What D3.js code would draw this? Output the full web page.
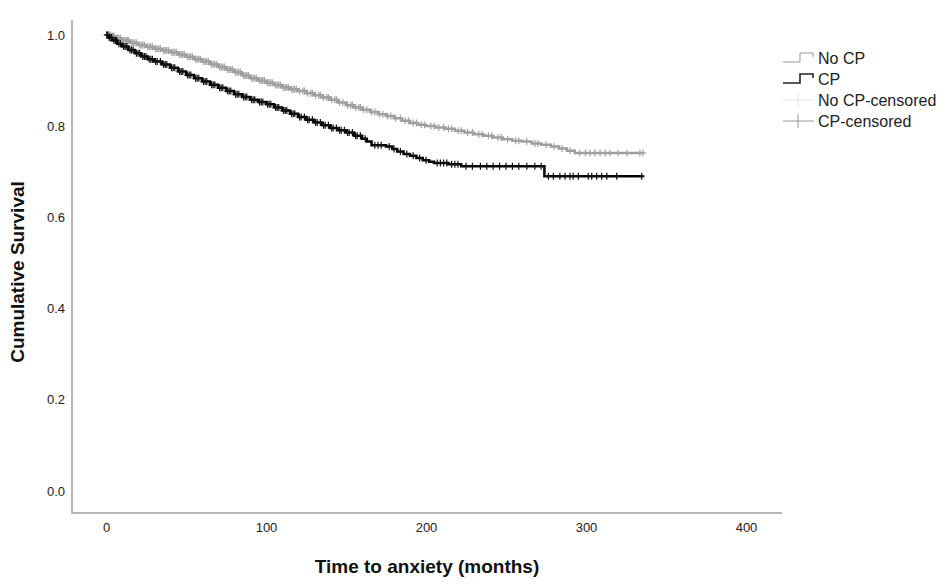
<!DOCTYPE html>
<head>
<meta charset="utf-8">
<style>
body { margin: 0; background: #fff; }
text { font-family: "Liberation Sans", Arial, sans-serif; }
.tick text { font-size: 13px; fill: #222; }
.title { font-size: 19px; font-weight: bold; fill: #111; }
.legend text { font-size: 16px; fill: #222; }
path.km { fill: none; }
</style>
<title>Survival</title>
</head>
<body>
<script src="https://cdn.jsdelivr.net/npm/d3@7"></script>
<script>

var width = 947, height = 586;

// Kaplan-Meier curves (time in months, cumulative survival)
var noCpTime = [0, 3, 6, 10, 15, 20, 25, 30, 35, 40, 45, 50, 55, 60, 65, 70, 75, 80, 85, 90, 95, 100,
  105, 110, 115, 120, 125, 130, 135, 140, 145, 150, 155, 160, 165, 170, 175, 180, 185, 190, 195, 200,
  206, 212, 218, 224, 230, 236, 242, 248, 254, 260, 266, 272, 278, 283, 288, 293];
var noCpSurv = [1.000, 0.997, 0.993, 0.988, 0.983, 0.978, 0.974, 0.970, 0.966, 0.962, 0.957, 0.952, 0.947, 0.942, 0.936, 0.930, 0.924, 0.918, 0.911, 0.905, 0.900, 0.895,
  0.890, 0.885, 0.881, 0.877, 0.872, 0.868, 0.863, 0.858, 0.852, 0.846, 0.841, 0.836, 0.831, 0.826, 0.822, 0.817, 0.812, 0.807, 0.803, 0.800,
  0.797, 0.794, 0.790, 0.786, 0.782, 0.779, 0.775, 0.771, 0.768, 0.766, 0.762, 0.759, 0.755, 0.751, 0.746, 0.741];
var noCpEnd = 336;

var cpTime = [0, 2, 4, 7, 10, 14, 18, 22, 26, 30, 35, 40, 45, 50, 55, 60, 65, 70, 75, 80, 85, 90, 95, 100,
  105, 110, 115, 120, 125, 130, 135, 140, 145, 150, 155, 160, 163, 166, 175, 179, 182, 186, 190, 194, 198, 202, 205, 214, 222, 274];
var cpSurv = [1.000, 0.994, 0.988, 0.981, 0.975, 0.967, 0.960, 0.953, 0.947, 0.942, 0.935, 0.928, 0.920, 0.912, 0.905, 0.898, 0.891, 0.884, 0.877, 0.870, 0.864, 0.858, 0.853, 0.848,
  0.841, 0.834, 0.827, 0.820, 0.814, 0.808, 0.802, 0.796, 0.791, 0.786, 0.779, 0.772, 0.766, 0.758, 0.755, 0.750, 0.744, 0.739, 0.735, 0.730, 0.725, 0.722, 0.719, 0.716, 0.712, 0.690];
var cpEnd = 336;

// censored observations (months)
var noCpCensored = [0.5, 1, 1.5, 2, 2.5, 3.5, 4, 4.5, 5, 6, 7, 7.5, 8, 9, 10.5, 11, 12, 13, 13.5, 14, 16, 17, 18, 19, 21, 22, 23, 24, 26, 27, 28, 29, 31, 32, 33, 34, 36, 37, 38, 39, 41, 42, 43, 44, 46, 47, 48, 49,
  51, 52, 53, 54, 56, 57, 58, 59, 61, 62, 63, 64, 66, 67, 68, 69, 71, 72, 73, 74, 76, 77, 78, 79, 81, 82, 83, 84, 86, 87, 88, 89, 91, 92, 93, 94, 96, 97, 98, 99,
  101, 102, 103, 104, 106, 107, 108, 109, 111, 112, 113, 114, 116, 117, 118, 119, 121, 123, 124, 126, 128, 129, 131, 133, 134, 136, 138, 139, 141, 143, 144, 146, 148,
  151, 153, 154, 156, 158, 159, 161, 163, 166, 168, 171, 173, 176, 178, 181, 184, 187, 189, 192, 194, 197, 199, 203, 205, 208, 211,
  214, 216, 220, 222, 226, 229, 233, 235, 239, 241, 245, 247, 251, 256, 258, 263, 268, 270, 275, 280, 285, 290,
  296, 299.6, 302.5, 305.6, 308.8, 312, 315, 320, 325.6, 333.7, 335.7];
var cpCensored = [0.5, 1, 2, 3, 3.5, 5, 6, 6.5, 8, 9, 11, 12, 13, 15, 16, 17, 19, 20, 21, 23, 24, 25, 27, 28, 29, 31, 32, 34, 36, 37, 38, 41, 42, 43, 46, 47, 48, 51, 52, 53, 56, 57, 58, 61, 62, 63,
  66, 67, 68, 71, 72, 73, 76, 77, 78, 81, 82, 83, 86, 87, 88, 91, 92, 93, 96, 97, 98, 101, 102, 103, 106, 107, 108, 111, 112, 113, 116, 117, 118, 121, 122, 124, 126, 127, 129,
  131, 132, 134, 136, 137, 139, 141, 142, 144, 146, 147, 149, 151, 152, 154, 156, 157, 159, 162, 168, 170, 172, 177, 180, 184, 188, 192, 196, 200,
  207, 209, 211, 213, 216, 218, 220, 225, 229, 234, 238, 242, 246, 250, 254, 258, 263, 268, 272,
  276.5, 279.6, 283.7, 286.9, 290, 292, 295.2, 301.4, 303.6, 306.7, 309.8, 313, 319.2, 334.8];

var xTicks = [0, 100, 200, 300, 400];
var yTicks = [0, 0.2, 0.4, 0.6, 0.8, 1.0];
var groups = ["No CP", "CP", "No CP-censored", "CP-censored"];

var x = d3.scaleLinear().domain([0, 400]).range([106, 746]);
var y = d3.scaleLinear().domain([0, 1]).range([490.5, 35]);

var svg = d3.select("body").append("svg")
    .attr("width", width)
    .attr("height", height);

// frame (left and bottom axis lines)
svg.append("path")
    .attr("d", "M72,20V513H782")
    .attr("fill", "none")
    .attr("stroke", "#a0a0a0")
    .attr("stroke-width", 1.5);

var xAxis = svg.append("g")
    .attr("transform", "translate(0,513)")
    .call(d3.axisBottom(x).tickValues(xTicks).tickSize(0).tickPadding(10).tickFormat(d3.format("d")));
xAxis.select(".domain").remove();

var yAxis = svg.append("g")
    .attr("transform", "translate(65,0)")
    .call(d3.axisLeft(y).tickValues(yTicks).tickSize(0).tickPadding(0).tickFormat(d3.format(".1f")));
yAxis.select(".domain").remove();
yAxis.selectAll("text").attr("dy", "0.35em");

svg.append("text")
    .attr("class", "title")
    .attr("x", 427)
    .attr("y", 573)
    .attr("text-anchor", "middle")
    .text("Time to anxiety (months)");

svg.append("text")
    .attr("class", "title")
    .attr("transform", "translate(24,272)rotate(-90)")
    .attr("text-anchor", "middle")
    .text("Cumulative Survival");

function stepPath(times, surv, end) {
  var d = "M" + x(times[0]) + "," + y(surv[0]);
  for (var i = 1; i < times.length; i++) {
    d += "H" + x(times[i]) + "V" + y(surv[i]);
  }
  return d + "H" + x(end);
}

function survAt(times, surv, t) {
  var i = d3.bisectRight(times, t) - 1;
  return surv[Math.max(0, i)];
}

function crosses(g, cens, times, surv, color, w) {
  g.selectAll("path.c")
    .data(cens)
    .enter().append("path")
    .attr("class", "c")
    .attr("fill", "none")
    .attr("stroke", color)
    .attr("stroke-width", w)
    .attr("d", function(t) {
      var px = x(t), py = y(survAt(times, surv, t));
      return "M" + (px - 3) + "," + py + "H" + (px + 3) + "M" + px + "," + (py - 3.5) + "V" + (py + 3.5);
    });
}

var gNo = svg.append("g");
gNo.append("path")
    .attr("class", "km")
    .attr("d", stepPath(noCpTime, noCpSurv, noCpEnd))
    .attr("stroke", "#a09d9d")
    .attr("stroke-width", 2.5);
crosses(gNo, noCpCensored, noCpTime, noCpSurv, "#a3a0a0", 1.2);

var gCp = svg.append("g");
gCp.append("path")
    .attr("class", "km")
    .attr("d", stepPath(cpTime, cpSurv, cpEnd))
    .attr("stroke", "#000")
    .attr("stroke-width", 2.5);
crosses(gCp, cpCensored, cpTime, cpSurv, "#111", 1.2);

// legend
var legend = svg.append("g").attr("class", "legend");
var legY = [58, 79, 100, 121];
var legStroke = ["#999", "#222", "#e4e4e4", "#999"];
legend.selectAll("path.sym")
    .data(groups)
    .enter().append("path")
    .attr("class", "sym")
    .attr("fill", "none")
    .attr("stroke", function(d, i) { return legStroke[i]; })
    .attr("stroke-width", function(d, i) { return i == 1 ? 1.6 : 1; })
    .attr("d", function(d, i) {
      var cy = legY[i];
      if (i < 2) return "M783," + (cy + 4) + "H800V" + (cy - 5) + "H813V" + (cy - 1);
      return "M783," + cy + "H814M798," + (cy - 7) + "V" + (cy + 7);
    });
legend.selectAll("text")
    .data(groups)
    .enter().append("text")
    .attr("x", 818)
    .attr("y", function(d, i) { return legY[i]; })
    .attr("dy", "0.35em")
    .text(function(d) { return d; });

</script>
</body>
